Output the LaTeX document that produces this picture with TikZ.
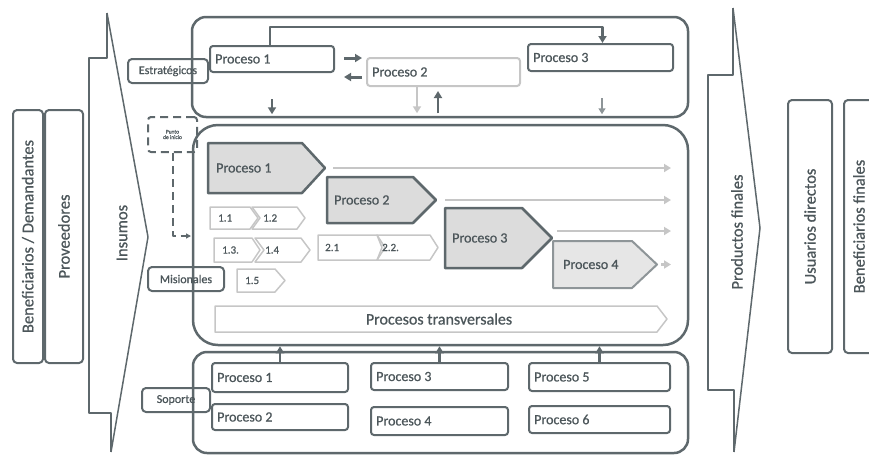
\documentclass[tikz,border=0pt]{standalone}
\usepackage{fontspec}
\setmainfont{Carlito}[FakeBold=0.8]
\usetikzlibrary{arrows.meta}

\definecolor{linea}{HTML}{5E686C}
\definecolor{texto}{HTML}{4C565A}
\definecolor{claro}{HTML}{C6C6C6}
\definecolor{medio}{HTML}{8E9598}
\definecolor{relleno}{HTML}{DCDCDC}

\newcommand\tam[1]{\fontsize{#1}{#1}\selectfont}

% box with text on the left: style, name, x, y, w, h, text
\newcommand\proc[7]{
  \node[#1, minimum width=#5, minimum height=#6] (#2) at ({#3+#5/2},{#4+#6/2}) {};
  \node[anchor=west, font=\tam{14}] (#2-t) at ([xshift=6pt]#2.west) {#7};
}
% pentagon arrow: style, name, x, y, w, h, point
\newcommand\penta[7]{
  \draw[#1] (#3,#4) -- ({#3+#5-#7},#4) -- ({#3+#5},{#4+#6/2}) -- ({#3+#5-#7},{#4+#6}) -- (#3,{#4+#6}) -- cycle;
  \coordinate (#2-w) at (#3,{#4+#6/2});
  \coordinate (#2-tip) at ({#3+#5},{#4+#6/2});
}
% chevron with notch: style, name, x, y, w, h, point
\newcommand\muesca[7]{
  \draw[#1] (#3,#4) -- ({#3+#5-#7},#4) -- ({#3+#5},{#4+#6/2}) -- ({#3+#5-#7},{#4+#6}) -- (#3,{#4+#6}) -- ({#3+#7},{#4+#6/2}) -- cycle;
  \coordinate (#2-w) at ({#3+#7},{#4+#6/2});
  \coordinate (#2-tip) at ({#3+#5},{#4+#6/2});
}

\begin{document}
\begin{tikzpicture}[x=1pt, y=-1pt, line join=round,
    every node/.style={text=texto, inner sep=0pt},
    marco/.style={draw=linea, line width=2.5pt, rounded corners=14pt},
    caja/.style={draw=linea, line width=2pt, rounded corners=3pt},
    etiqueta/.style={draw=linea, line width=2pt, rounded corners=4pt, font=\tam{12}},
    lado/.style={draw=linea, line width=2pt, rounded corners=4pt, font=\tam{16.5}, rotate=90},
    borde/.style={draw=linea, line width=2pt},
    grueso/.style={draw=linea, fill=relleno, line width=2.5pt},
    sub/.style={draw=claro, line width=1.5pt},
    fuerte/.style={draw=linea, line width=2.5pt, -{Triangle[length=7pt,width=8pt]}},
    suave/.style={draw=claro, line width=2.5pt, -{Triangle[length=7pt,width=8pt]}},
    gris/.style={draw=medio, line width=2pt, -{Triangle[length=6pt,width=7pt]}}]

    \useasboundingbox (0,0) rectangle (869,456);

    % left side
    \node[lado, minimum width=253, minimum height=30] (benef) at (28,236.5) {Beneficiarios / Demandantes};
    \node[lado, minimum width=253, minimum height=38] (prov) at (64,236.5) {Proveedores};
    \draw[borde] (107,13) -- (107,58) -- (89,58) -- (89,413) -- (111,413) -- (111,452);
    \draw[borde, line width=1.5pt] (107,13) -- (148,237) -- (111,452);
    \node[rotate=90, font=\tam{16.5}] (insumos) at (122,233) {Insumos};

    % right side
    \draw[borde] (733,8) -- (733,75) -- (708,75) -- (708,390) -- (734,390) -- (734,452);
    \draw[borde, line width=1.5pt] (733,8) -- (760,228) -- (734,452);
    \node[rotate=90, font=\tam{16.5}] (productos) at (737,232) {Productos finales};
    \node[lado, minimum width=253, minimum height=44] (usuarios) at (810,226.5) {Usuarios directos};
    \node[lado, minimum width=253, minimum height=30] (benfin) at (859,226.5) {Beneficiarios finales};

    % frames
    \node[marco, minimum width=496, minimum height=100] (estr) at (440,67) {};
    \node[marco, rounded corners=25pt, minimum width=495, minimum height=220] (mis) at (440.5,235) {};
    \node[marco, minimum width=495, minimum height=101] (sop) at (440.5,402.5) {};

    \node[etiqueta, minimum width=80, minimum height=24] (lestr) at (168,71) {Estratégicos};
    \node[etiqueta, minimum width=76, minimum height=24] (lmis) at (186,279) {Misionales};
    \node[etiqueta, minimum width=68, minimum height=24] (lsop) at (176,400) {Soporte};

    % strategic processes
    \proc{caja}{tp1}{210}{46}{124}{26}{Proceso 1}
    \proc{caja, draw=claro}{tp2}{367}{58}{153}{28}{Proceso 2}
    \proc{caja}{tp3}{528}{44}{145}{27}{Proceso 3}

    \draw[fuerte] ([xshift=-2pt]tp1.north) -- ++(0,-18) -| ([xshift=2pt]tp3.north);
    \draw[fuerte, line width=3pt] ([xshift=9pt,yshift=1pt]tp1.east) -- ([xshift=-4pt,yshift=1pt]tp1.east -| tp2.west);
    \draw[fuerte, line width=3pt] ([xshift=-4pt,yshift=-5pt]tp2.west) -- ([xshift=9pt,yshift=-5pt]tp2.west -| tp1.east);

    % down and up
    \draw[fuerte] ([yshift=-26pt]tp1.south) -- ([yshift=4pt]tp1.south |- estr.south);
    \draw[suave] ([xshift=-26.5pt]tp2.south) -- ([xshift=-26.5pt,yshift=5pt]tp2.south |- estr.south);
    \draw[fuerte] ([xshift=-5.5pt,yshift=5pt]tp2.south |- estr.south) -- ([xshift=-5.5pt,yshift=-4pt]tp2.south);
    \draw[gris] ([xshift=1.5pt,yshift=-26pt]tp3.south) -- ([xshift=1.5pt,yshift=4pt]tp3.south |- estr.south);

    % starting point
    \node[draw=linea, dash pattern=on 8pt off 5pt, line width=2pt, rounded corners=3pt,
          minimum width=49, minimum height=35, align=center, font=\tam{5.5}] (inicio) at (172.5,134.5) {Punto\\de inicio};
    \coordinate (entrada) at (191,236);
    \draw[draw=linea, line width=2pt, dash pattern=on 8pt off 5pt, -{Triangle[length=5pt,width=5pt]}] (inicio.south) |- (entrada);

    % mission processes
    \penta{grueso}{m1}{208}{143}{117}{50}{23}
    \penta{grueso}{m2}{327}{177}{109}{46}{23}
    \penta{grueso}{m3}{445}{208}{107}{60}{30}
    \penta{draw=medio, fill=relleno!70, line width=2pt}{m4}{553}{241}{104}{47}{25}
    \node[anchor=west, font=\tam{14}] (p1) at ([xshift=8pt]m1-w) {Proceso 1};
    \node[anchor=west, font=\tam{14}] (p2) at ([xshift=7pt]m2-w) {Proceso 2};
    \node[anchor=west, font=\tam{14}] (p3) at ([xshift=7pt]m3-w) {Proceso 3};
    \node[anchor=west, font=\tam{14}] (p4) at ([xshift=10pt]m4-w) {Proceso 4};

    \coordinate (limite) at (671,0);
    \draw[suave] ([xshift=8pt]m1-tip) -- (m1-tip -| limite);
    \draw[suave] ([xshift=9pt]m2-tip) -- (m2-tip -| limite);
    \draw[suave] ([xshift=5pt,yshift=7pt]m3-tip) -- ([yshift=7pt]m3-tip -| limite);
    \draw[suave] ([xshift=4pt]m4-tip) -- (m4-tip -| limite);

    % sub processes
    \penta{sub}{s11}{210}{207}{48}{22}{8}
    \muesca{sub}{s12}{252}{207}{53}{22}{8}
    \penta{sub}{s13}{214}{238}{46}{24}{8}
    \muesca{sub}{s14}{255}{238}{55}{24}{9}
    \penta{sub}{s15}{237}{269}{48}{23}{10}
    \penta{sub}{s21}{318}{235}{64}{25}{5}
    \muesca{sub}{s22}{377}{235}{61}{25}{8}
    \node[anchor=west, font=\tam{11}] (t11) at ([xshift=8pt]s11-w) {1.1};
    \node[anchor=west, font=\tam{11}] (t12) at ([xshift=3pt]s12-w) {1.2};
    \node[anchor=west, font=\tam{11}] (t13) at ([xshift=8pt]s13-w) {1.3.};
    \node[anchor=west, font=\tam{11}] (t14) at ([xshift=1pt]s14-w) {1.4};
    \node[anchor=west, font=\tam{11}] (t15) at ([xshift=8pt]s15-w) {1.5};
    \node[anchor=west, font=\tam{11}] (t21) at ([xshift=7pt]s21-w) {2.1};
    \node[anchor=west, font=\tam{11}] (t22) at ([xshift=-3pt]s22-w) {2.2.};

    % transversal
    \penta{sub}{tr}{215}{306}{452}{26}{10}
    \node[font=\tam{16}] (trans) at (439,319) {Procesos transversales};

    % support processes
    \proc{caja}{b1}{212}{363}{136}{29}{Proceso 1}
    \proc{caja}{b2}{212}{404}{136}{26}{Proceso 2}
    \proc{caja}{b3}{371}{363}{137}{27}{Proceso 3}
    \proc{caja}{b4}{371}{407}{137}{28}{Proceso 4}
    \proc{caja}{b5}{529}{363}{141}{28}{Proceso 5}
    \proc{caja}{b6}{529}{406}{141}{27}{Proceso 6}

    \draw[fuerte] (b1.north) -- (b1.north |- mis.south);
    \draw[fuerte] (b3.north) -- (b3.north |- mis.south);
    \draw[fuerte] (b5.north) -- (b5.north |- mis.south);

\end{tikzpicture}
\end{document}
